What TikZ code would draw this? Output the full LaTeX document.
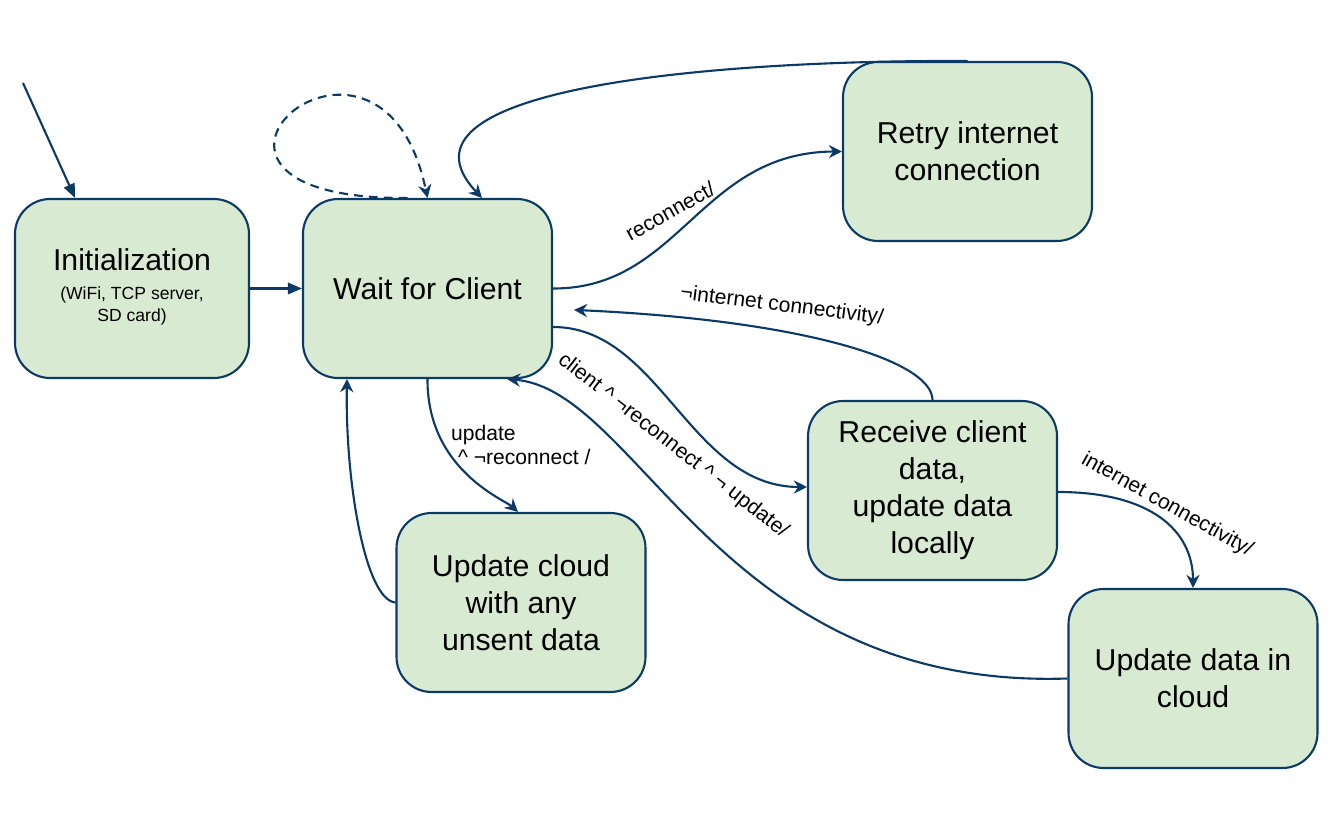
\documentclass[tikz,border=0pt]{standalone}
\usepackage{fontspec}
\setmainfont{Liberation Sans}
\usepackage{tikz}
\usetikzlibrary{arrows.meta,positioning}
\definecolor{navy}{HTML}{0B3A66}
\definecolor{sage}{HTML}{D9EAD3}

\begin{document}
\begin{tikzpicture}[x=0.02cm, y=-0.02cm,
        state/.style={draw=navy, fill=sage, line width=1.2pt, rounded corners=0.7cm,
            minimum width=4.98cm, minimum height=3.58cm, align=center,
            font=\fontsize{17.2}{21}\selectfont},
        edge/.style={draw=navy, line width=1.2pt, -{Stealth[length=7.5pt,width=7.5pt,inset=2.5pt]}},
        fedge/.style={draw=navy, line width=1.2pt, -{Triangle[length=8pt,width=6.5pt]}},
        lbl/.style={font=\fontsize{12}{14}\selectfont, inner sep=1pt}]
            \useasboundingbox (0,0) rectangle (1342,824);

            % states
            \node[state, minimum width=4.68cm] (init) at (132,288.5)
                {Initialization\\[-4.5pt]\fontsize{10}{12.5}\selectfont\begin{tabular}[t]{@{}c@{}}(WiFi, TCP server,\\SD card)\end{tabular}};
            \node[state] (wait) at (427.5,288.5) {Wait for Client};
            \node[state] (retry) at (967.5,151.5) {Retry internet\\connection};
            \node[state] (recv) at (932.5,490.5) {Receive client\\data,\\update data\\locally};
            \node[state] (unsent) at (521,602.5) {Update cloud\\with any\\unsent data};
            \node[state] (cloud) at (1193,678.5) {Update data in\\cloud};
            \coordinate (entry) at (23,83);

            % transitions
            \draw[fedge] (entry) -- (init.north -| 75,0);
            \draw[fedge] (init.east) -- (wait.west);
            \draw[edge, dash pattern=on 5pt off 3.5pt] ([xshift=-0.4cm]wait.north) .. controls (120,200) and (380,-30) .. (wait.north);
            \draw[edge] (wait.east) .. controls (680,289) and (700,152) .. (retry.west);
            \draw[edge] (retry.north) .. controls (700,60) and (380,90) .. (wait.north -| 482,0);
            \draw[edge] (wait.east |- 0,327) .. controls (660,327) and (690,487) .. (recv.west |- 0,487);
            \draw[edge, shorten >=0.42cm] (recv.north) .. controls (932,360) and (800,320) .. (wait.east |- 0,309);
            \draw[edge] (recv.east |- 0,492) .. controls (1150,492) and (1193,530) .. (cloud.north);
            \draw[edge] (cloud.west) .. controls (720,690) and (640,390) .. (wait.south -| 507,0);
            \draw[edge] (wait.south) .. controls (427,470) and (505,500) .. (unsent.north -| 518,0);
            \draw[edge] (unsent.west) .. controls (365,600) and (345,480) .. (wait.south -| 347,0);

            % labels
            \node[lbl, rotate=29] (lreconnect) at (670,211) {reconnect/};
            \node[lbl, rotate=-7] (lnoinet) at (782,306) {¬internet connectivity/};
            \node[lbl, rotate=-38] (lclient) at (673,446) {client \textasciicircum\ ¬reconnect \textasciicircum\ ¬ update/};
            \node[lbl, align=left, anchor=north west] (lupdate) at (449,423) {update\\\hspace*{4pt}\textasciicircum\ ¬reconnect /};
            \node[lbl, rotate=-29] (linet) at (1167,505) {internet connectivity/};
        \end{tikzpicture}
\end{document}
